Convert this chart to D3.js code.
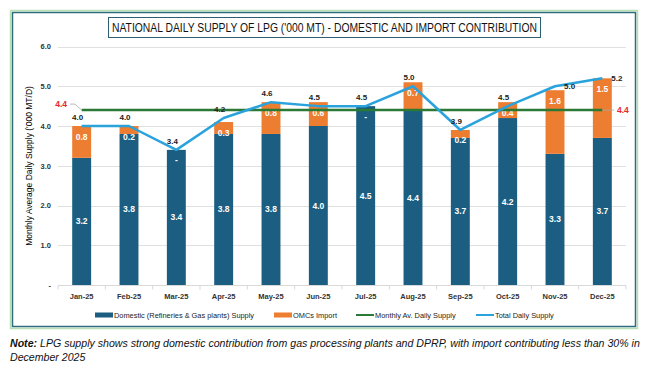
<!DOCTYPE html>
<html>
<head>
<meta charset="utf-8">
<script src="https://cdn.jsdelivr.net/npm/d3@7"></script>
<style>
  body { margin: 0; background: #fff; }
  svg { display: block; font-family: "Liberation Sans", Arial, sans-serif; }
</style>
</head>
<body>
<div id="chart"></div>
<script>
// chart data
const months = ['Jan-25', 'Feb-25', 'Mar-25', 'Apr-25', 'May-25', 'Jun-25',
                'Jul-25', 'Aug-25', 'Sep-25', 'Oct-25', 'Nov-25', 'Dec-25'];
const domestic = [3.2, 3.8, 3.4, 3.8, 3.8, 4.0, 4.5, 4.4, 3.7, 4.2, 3.3, 3.7];
const imports = [0.8, 0.2, 0.0, 0.3, 0.8, 0.6, 0.0, 0.7, 0.2, 0.4, 1.6, 1.5];
const totals = [4.0, 4.0, 3.4, 4.2, 4.6, 4.5, 4.5, 5.0, 3.9, 4.5, 5.0, 5.2];
const monthlyAvg = 4.4;
const yTicks = [0, 1, 2, 3, 4, 5, 6];
// where the total label sits relative to its point
const totalLabelPlace = ['above', 'above', 'above', 'above', 'above', 'above',
                         'above', 'above', 'above', 'above', 'right', 'right'];

const title = "NATIONAL DAILY SUPPLY  OF LPG ('000 MT) - DOMESTIC AND IMPORT CONTRIBUTION";
const yTitle = "Monthly Average Daily Supply ('000 MT/D)";
const legendItems = [
    {label: 'Domestic (Refineries & Gas plants) Supply', color: '#1b5e82', type: 'rect'},
    {label: 'OMCs Import', color: '#ed7d31', type: 'rect'},
    {label: 'Monthly Av. Daily Supply', color: '#2a7a36', type: 'line'},
    {label: 'Total  Daily Supply', color: '#2aa3dc', type: 'line'}
];

const W = 667, H = 387;
const colDomestic = '#1b5e82', colImport = '#ed7d31', colAvg = '#2a7a36', colTotal = '#2aa3dc';

const svg = d3.select('#chart').append('svg')
    .attr('width', W)
    .attr('height', H);

// frame
svg.append('rect')
    .attr('x', 10.5).attr('y', 10.5).attr('width', 627).attr('height', 318)
    .attr('fill', 'none').attr('stroke', '#b9e0b4').attr('stroke-width', 1.5);
svg.append('rect')
    .attr('x', 12.5).attr('y', 12.5).attr('width', 623).attr('height', 314)
    .attr('fill', '#fff').attr('stroke', '#2d6c7c').attr('stroke-width', 1.5);

// title box
svg.append('rect')
    .attr('x', 108.5).attr('y', 17.5).attr('width', 432).attr('height', 20)
    .attr('fill', '#fff').attr('stroke', '#2d5f70').attr('stroke-width', 1);
svg.append('text')
    .attr('x', 112).attr('y', 31.5)
    .attr('textLength', 425)
    .attr('lengthAdjust', 'spacingAndGlyphs')
    .style('font-size', '12.5px')
    .attr('fill', '#111')
    .text(title);

// scales
const xScale = d3.scaleBand()
    .domain(months)
    .range([58, 626])
    .paddingInner(0.6)
    .paddingOuter(0.3);

const yScale = d3.scaleLinear()
    .domain([0, 6])
    .range([285, 46.5]);

const xc = m => xScale(m) + xScale.bandwidth() / 2;

// grid lines + y labels
const grid = svg.append('g');
grid.selectAll('line')
    .data(yTicks.filter(d => d > 0))
    .enter().append('line')
    .attr('x1', 58).attr('x2', 626)
    .attr('y1', d => Math.round(yScale(d)) + 0.5)
    .attr('y2', d => Math.round(yScale(d)) + 0.5)
    .attr('stroke', '#e0e0e0');

const yAxis = svg.append('g')
    .attr('transform', 'translate(58,0)')
    .call(d3.axisLeft(yScale).tickValues(yTicks).tickSize(0).tickPadding(7)
        .tickFormat(d => d === 0 ? '-' : d3.format('.1f')(d)));
yAxis.select('.domain').remove();
yAxis.selectAll('text')
    .style('font-size', '7.5px')
    .style('font-weight', 'bold')
    .attr('fill', '#333');

// x axis line + ticks at band boundaries
svg.append('line')
    .attr('x1', 58).attr('x2', 626).attr('y1', 285.5).attr('y2', 285.5)
    .attr('stroke', '#d9d9d9');
svg.append('g').selectAll('line')
    .data(d3.range(months.length + 1))
    .enter().append('line')
    .attr('x1', i => 58 + i * xScale.step())
    .attr('x2', i => 58 + i * xScale.step())
    .attr('y1', 285.5).attr('y2', 289.5)
    .attr('stroke', '#d9d9d9');

svg.append('g').selectAll('text')
    .data(months)
    .enter().append('text')
    .attr('x', d => xc(d))
    .attr('y', 298.5)
    .attr('text-anchor', 'middle')
    .style('font-size', '7.5px')
    .style('font-weight', 'bold')
    .attr('fill', '#333')
    .text(d => d);

// y axis title
svg.append('text')
    .attr('transform', 'translate(32,166) rotate(-90)')
    .attr('text-anchor', 'middle')
    .style('font-size', '8.5px')
    .attr('fill', '#000')
    .text(yTitle);

// stacked bars
const bars = svg.append('g');
bars.selectAll('.dom')
    .data(months)
    .enter().append('rect')
    .attr('class', 'dom')
    .attr('x', d => xScale(d))
    .attr('width', xScale.bandwidth())
    .attr('y', (d, i) => yScale(domestic[i]))
    .attr('height', (d, i) => yScale(0) - yScale(domestic[i]))
    .attr('fill', colDomestic);

bars.selectAll('.imp')
    .data(months)
    .enter().append('rect')
    .attr('class', 'imp')
    .attr('x', d => xScale(d))
    .attr('width', xScale.bandwidth())
    .attr('y', (d, i) => yScale(domestic[i] + imports[i]))
    .attr('height', (d, i) => yScale(domestic[i]) - yScale(domestic[i] + imports[i]))
    .attr('fill', colImport);

// segment labels
bars.selectAll('.domLabel')
    .data(months)
    .enter().append('text')
    .attr('x', d => xc(d))
    .attr('y', (d, i) => (yScale(0) + yScale(domestic[i])) / 2 + 3)
    .attr('text-anchor', 'middle')
    .style('font-size', '8.5px')
    .style('font-weight', 'bold')
    .attr('fill', '#fff')
    .text((d, i) => d3.format('.1f')(domestic[i]));

bars.selectAll('.impLabel')
    .data(months)
    .enter().append('text')
    .attr('x', d => xc(d))
    .attr('y', (d, i) => yScale(domestic[i] + imports[i]) + 13.5)
    .attr('text-anchor', 'middle')
    .style('font-size', '8.5px')
    .style('font-weight', 'bold')
    .attr('fill', '#fff')
    .text((d, i) => imports[i] === 0 ? '-' : d3.format('.1f')(imports[i]));

// monthly average line
svg.append('line')
    .attr('x1', xc(months[0])).attr('x2', xc(months[months.length - 1]))
    .attr('y1', yScale(monthlyAvg)).attr('y2', yScale(monthlyAvg))
    .attr('stroke', colAvg).attr('stroke-width', 2.5);

// leader lines and avg labels
const yAvg = yScale(monthlyAvg);
svg.append('path')
    .attr('d', `M70,${yAvg - 6}L75,${yAvg - 6}L${xc(months[0])},${yAvg}`)
    .attr('fill', 'none').attr('stroke', '#aaa').attr('stroke-width', 0.8);
svg.append('path')
    .attr('d', `M${xc(months[11])},${yAvg}L614,${yAvg}`)
    .attr('fill', 'none').attr('stroke', '#aaa').attr('stroke-width', 0.8);
svg.append('text')
    .attr('x', 67).attr('y', yAvg - 3)
    .attr('text-anchor', 'end')
    .style('font-size', '8.5px').style('font-weight', 'bold')
    .attr('fill', '#e8262c')
    .text(d3.format('.1f')(monthlyAvg));
svg.append('text')
    .attr('x', 617).attr('y', yAvg + 3)
    .style('font-size', '8.5px').style('font-weight', 'bold')
    .attr('fill', '#e8262c')
    .text(d3.format('.1f')(monthlyAvg));

// total line
const line = d3.line()
    .x((d, i) => xc(months[i]))
    .y(d => yScale(d));

svg.append('path')
    .datum(totals)
    .attr('d', line)
    .attr('fill', 'none')
    .attr('stroke', colTotal)
    .attr('stroke-width', 2.5)
    .attr('stroke-linejoin', 'round');

svg.append('g').selectAll('text')
    .data(totals)
    .enter().append('text')
    .attr('x', (d, i) => totalLabelPlace[i] === 'right' ? xc(months[i]) + 9 : xc(months[i]) - 4)
    .attr('y', (d, i) => totalLabelPlace[i] === 'right' ? yScale(d) + 3 : yScale(d) - 6)
    .attr('text-anchor', (d, i) => totalLabelPlace[i] === 'right' ? 'start' : 'middle')
    .style('font-size', '8px')
    .style('font-weight', 'bold')
    .attr('fill', '#222')
    .text(d => d3.format('.1f')(d));

// legend
const legendX = [95, 274, 356, 476];
const legend = svg.append('g');
legendItems.forEach((item, i) => {
    const g = legend.append('g').attr('transform', `translate(${legendX[i]},315)`);
    if (item.type === 'rect') {
        g.append('rect').attr('x', 0).attr('y', -2.5).attr('width', 18).attr('height', 5)
            .attr('fill', item.color);
    } else {
        g.append('line').attr('x1', 0).attr('x2', 18).attr('y1', 0).attr('y2', 0)
            .attr('stroke', item.color).attr('stroke-width', 2);
    }
    g.append('text')
        .attr('x', 19).attr('y', 2.5)
        .style('font-size', '7.4px')
        .attr('fill', '#222')
        .text(item.label);
});

// note below frame
const note = svg.append('text')
    .attr('x', 10).attr('y', 347)
    .style('font-size', '10.6px')
    .style('font-style', 'italic')
    .attr('fill', '#111');
note.append('tspan').style('font-weight', 'bold').text('Note:');
note.append('tspan').text('  LPG supply shows strong domestic contribution from gas processing plants and DPRP, with import contributing less than 30% in');
svg.append('text')
    .attr('x', 10).attr('y', 361)
    .style('font-size', '10.6px')
    .style('font-style', 'italic')
    .attr('fill', '#111')
    .text('December 2025');
</script>
</body>
</html>
